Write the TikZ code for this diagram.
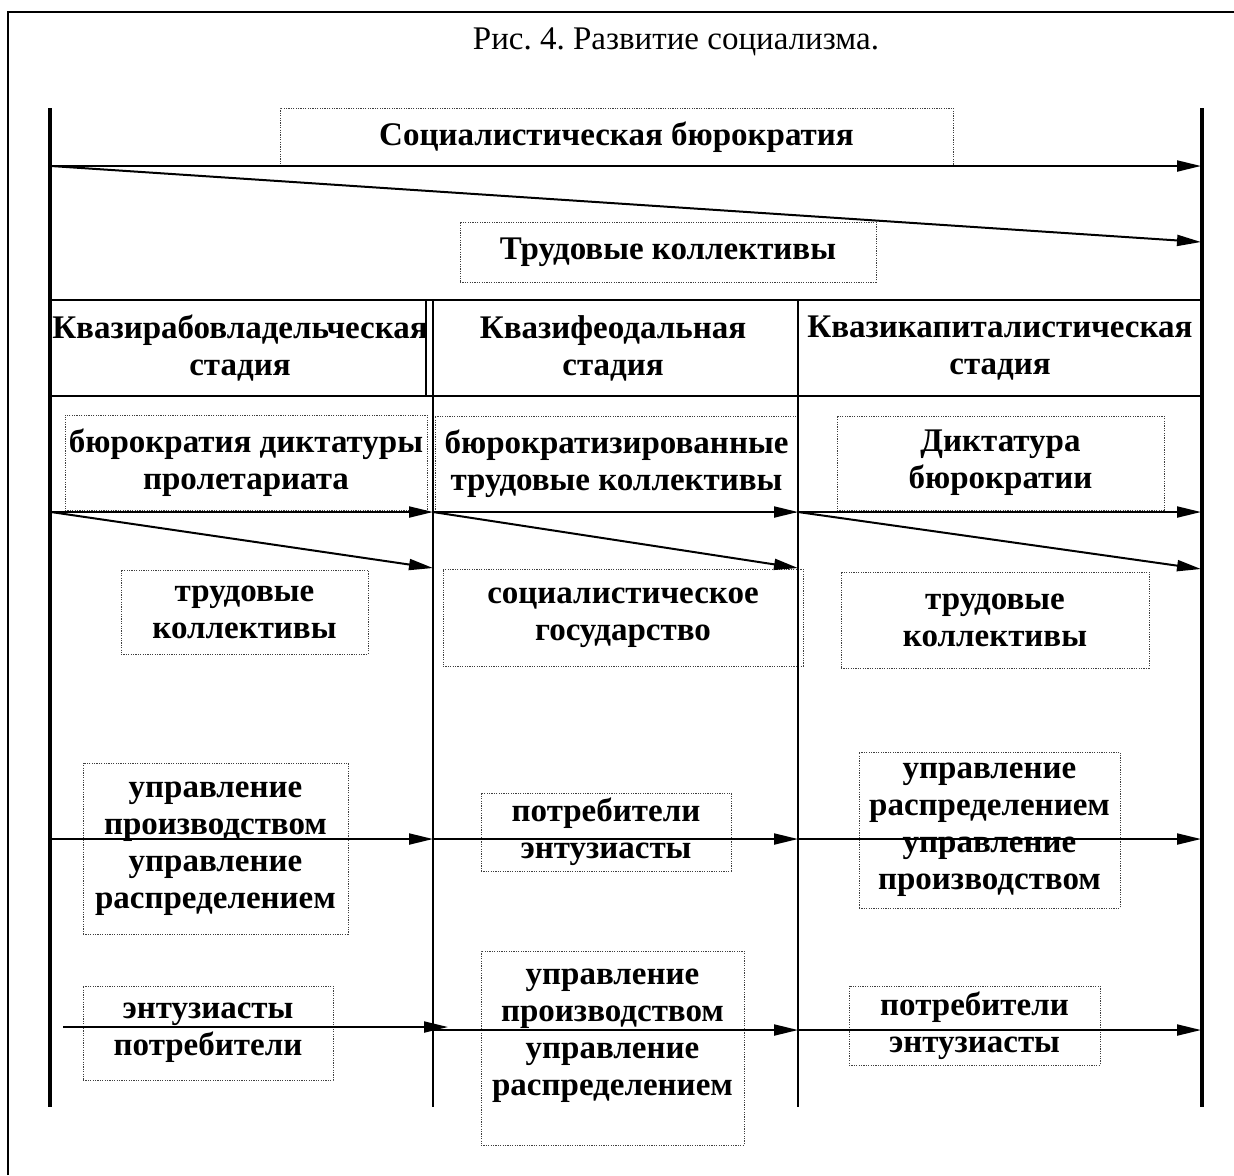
\documentclass[tikz,border=0pt]{standalone}
\usepackage{fontspec}
\setmainfont{Liberation Serif}
\frenchspacing
\usetikzlibrary{arrows.meta}
\tikzset{
    dotbox/.style={draw=black!75, dash pattern=on 0.6pt off 0.6pt, line width=0.4pt, inner sep=0, align=center, font=\fontsize{16.5}{18.5}\selectfont\bfseries},
    stage/.style={align=center, font=\fontsize{16.5}{18.5}\selectfont\bfseries},
    flow/.style={-{Triangle[length=12pt,width=5.5pt]}, line width=1pt},
    bar/.style={line width=2pt},
    rule/.style={line width=1pt}
}

\begin{document}
\begin{tikzpicture}[x=0.5pt, y=-0.5pt]
    \useasboundingbox (0,0) rectangle (1234,1175);
    \draw[line width=0.8pt] (8,1175) -- (8,12) -- (1234,12);
    \node[anchor=base, font=\fontsize{16.5}{20}\selectfont] (title) at (676,49) {Рис. 4. Развитие социализма.};

    \node[dotbox, minimum width=336.5pt, minimum height=29pt] (socbur) at (616.5,137) {Социалистическая бюрократия};
    \node[dotbox, minimum width=208pt, minimum height=30pt] (trudkol) at (668,252) {Трудовые коллективы};

    \node[stage] (stage1) at (240,348) {Квазирабовладельческая\\стадия};
    \node[stage] (stage2) at (613,348) {Квазифеодальная\\стадия};
    \node[stage] (stage3) at (1000,348) {Квазикапиталистическая\\стадия};

    \node[dotbox, minimum width=181pt, minimum height=47.5pt] (bur1) at (246,462.5) {бюрократия диктатуры\\пролетариата};
    \node[dotbox, minimum width=181.5pt, minimum height=48pt] (bur2) at (616.5,464) {бюрократизированные\\трудовые коллективы};
    \node[dotbox, minimum width=163.5pt, minimum height=47pt] (bur3) at (1000.5,463) {Диктатура\\бюрократии};

    \node[dotbox, minimum width=123.5pt, minimum height=42pt] (low1) at (244.5,612) {трудовые\\коллективы};
    \node[dotbox, minimum width=180pt, minimum height=48.5pt] (low2) at (623,617.5) {социалистическое\\государство};
    \node[dotbox, minimum width=154pt, minimum height=48pt] (low3) at (995,620) {трудовые\\коллективы};

    \node[dotbox, minimum width=132.5pt, minimum height=85.5pt] (upr1) at (215.5,848.5) {управление\\производством\\управление\\распределением};
    \node[dotbox, minimum width=125pt, minimum height=39pt] (upr2) at (606,832) {потребители\\энтузиасты};
    \node[dotbox, minimum width=130.5pt, minimum height=78pt] (upr3) at (989.5,830) {управление\\распределением\\управление\\производством};

    \node[dotbox, minimum width=125pt, minimum height=47pt] (ent1) at (208,1033) {энтузиасты\\потребители};
    \node[dotbox, minimum width=131.5pt, minimum height=97pt] (ent2) at (612.5,1048) {};
    \node[stage] (ent2text) at (612.5,1036) {управление\\производством\\управление\\распределением};
    \node[dotbox, minimum width=125.5pt, minimum height=39.5pt] (ent3) at (974.5,1025.5) {потребители\\энтузиасты};

    \draw[bar] (50,108) -- (50,1107);
    \draw[bar] (1202,108) -- (1202,1107);
    \draw[rule] (50,300) -- (1202,300);
    \draw[rule] (50,396) -- (1202,396);
    \draw[rule] (426,300) -- (426,396);
    \draw[rule] (433,300) -- (433,1107);
    \draw[rule] (798,300) -- (798,1107);

    \coordinate (top0) at (51,166);
    \coordinate (top1) at (1201,166);
    \coordinate (top2) at (1201,242);
    \draw[flow] (top0) -- (top1);
    \draw[flow] (top0) -- (top2);

    \coordinate (a0) at (51,512);
    \coordinate (a1) at (433,512);
    \coordinate (a2) at (798,512);
    \coordinate (a3) at (1201,512);
    \coordinate (b1) at (433,568);
    \coordinate (b2) at (798,568);
    \coordinate (b3) at (1201,569);
    \draw[flow] (a0) -- (a1);
    \draw[flow] (a1) -- (a2);
    \draw[flow] (a2) -- (a3);
    \draw[flow] (a0) -- (b1);
    \draw[flow] (a1) -- (b2);
    \draw[flow] (a2) -- (b3);

    \coordinate (c0) at (51,839);
    \coordinate (c1) at (433,839);
    \coordinate (c2) at (798,839);
    \coordinate (c3) at (1201,839);
    \draw[flow] (c0) -- (c1);
    \draw[flow] (c1) -- (c2);
    \draw[flow] (c2) -- (c3);

    \coordinate (d0) at (63,1027);
    \coordinate (d1) at (448,1027);
    \coordinate (d2) at (433,1030);
    \coordinate (d3) at (798,1030);
    \coordinate (d4) at (1201,1030);
    \draw[flow] (d0) -- (d1);
    \draw[flow] (d2) -- (d3);
    \draw[flow] (d3) -- (d4);
\end{tikzpicture}
\end{document}
